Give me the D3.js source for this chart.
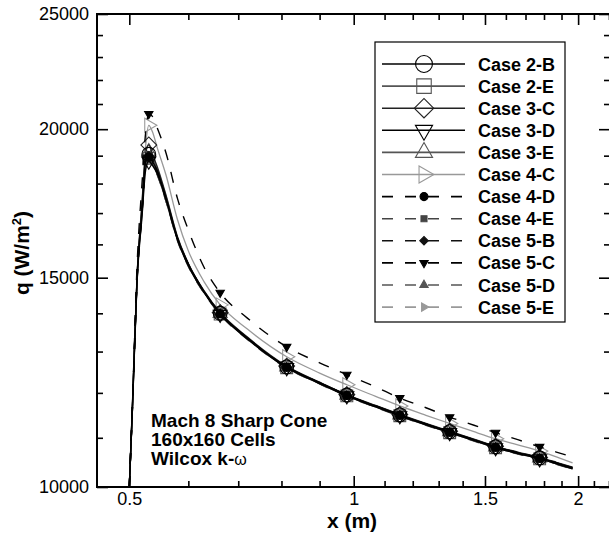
<!DOCTYPE html>
<html>
<head>
<meta charset="utf-8">
<script src="https://cdn.jsdelivr.net/npm/d3@7"></script>
<style>
  body { margin: 0; background: #fff; }
  svg { font-family: "Liberation Sans", Arial, Helvetica, sans-serif; }
</style>
</head>
<body>
<script>

// shared x stations (m) and the indices that carry a symbol
var xVals = [0.5, 0.505, 0.512, 0.52, 0.526, 0.531, 0.537, 0.545, 0.56, 0.58, 0.60, 0.63, 0.662, 0.72,
             0.813, 0.90, 0.979, 1.07, 1.153, 1.25, 1.345, 1.45, 1.55, 1.66, 1.776, 1.87, 1.966];
var markerIdx = [5, 12, 14, 16, 18, 20, 22, 24];

var caseNames = ["Case 2-B", "Case 2-E", "Case 3-C", "Case 3-D", "Case 3-E", "Case 4-C",
                 "Case 4-D", "Case 4-E", "Case 5-B", "Case 5-C", "Case 5-D", "Case 5-E"];

// heat flux q (W/m^2)
var q2B = [10000, 11750, 14950, 17100, 18850, 19050, 18800, 18450, 17500, 16200, 15400, 14600, 14000, 13350,
           12620, 12240, 11950, 11700, 11500, 11300, 11130, 10960, 10810, 10690, 10580, 10480, 10380];
var q2E = [10000, 11700, 14900, 17000, 18700, 18900, 18700, 18350, 17400, 16150, 15350, 14570, 13980, 13330,
           12600, 12220, 11930, 11680, 11480, 11280, 11110, 10940, 10790, 10670, 10560, 10460, 10360];
var q3C = [10000, 11800, 15000, 17300, 19100, 19400, 19050, 18600, 17600, 16250, 15420, 14620, 14020, 13370,
           12640, 12250, 11960, 11710, 11510, 11310, 11140, 10970, 10820, 10700, 10590, 10490, 10390];
var q3D = [10000, 11700, 14850, 16900, 18500, 18800, 18650, 18350, 17450, 16150, 15350, 14570, 13970, 13320,
           12600, 12220, 11930, 11680, 11480, 11280, 11110, 10940, 10790, 10670, 10560, 10460, 10360];
var q3E = [10000, 11750, 14950, 17200, 18950, 19150, 18900, 18500, 17550, 16220, 15400, 14600, 14000, 13350,
           12620, 12240, 11950, 11700, 11500, 11300, 11130, 10960, 10810, 10690, 10580, 10480, 10380];
var q4C = [10000, 11750, 15000, 17400, 19400, 20150, 19900, 19300, 18300, 16800, 15800, 14880, 14230, 13580,
           12870, 12470, 12190, 11920, 11700, 11490, 11310, 11130, 10980, 10850, 10720, 10600, 10480];
var q4D = [10000, 11750, 14900, 17050, 18800, 18950, 18750, 18400, 17450, 16180, 15380, 14590, 13990, 13340,
           12610, 12230, 11940, 11690, 11490, 11290, 11120, 10950, 10800, 10680, 10570, 10470, 10370];
var q4E = [10000, 11700, 14850, 17000, 18650, 18850, 18650, 18300, 17400, 16120, 15330, 14550, 13960, 13310,
           12590, 12210, 11920, 11670, 11470, 11270, 11100, 10930, 10780, 10660, 10550, 10450, 10350];
var q5B = [10000, 11750, 14950, 17100, 18800, 19000, 18800, 18450, 17500, 16200, 15400, 14600, 14000, 13350,
           12620, 12240, 11950, 11700, 11500, 11300, 11130, 10960, 10810, 10690, 10580, 10480, 10380];
var q5C = [10000, 11800, 15300, 18000, 19900, 20600, 20500, 20050, 19100, 17500, 16450, 15300, 14570, 13870,
           13120, 12720, 12430, 12140, 11880, 11660, 11450, 11270, 11110, 10960, 10810, 10700, 10600];
var q5D = [10000, 11700, 14900, 17000, 18700, 18900, 18700, 18350, 17400, 16150, 15350, 14570, 13980, 13330,
           12600, 12220, 11930, 11680, 11480, 11280, 11110, 10940, 10790, 10670, 10560, 10460, 10360];
var q5E = [10000, 11700, 14800, 16900, 18600, 18800, 18600, 18300, 17400, 16150, 15350, 14570, 13980, 13330,
           12600, 12220, 11930, 11680, 11480, 11280, 11110, 10940, 10790, 10670, 10560, 10460, 10360];

var xMajor = [0.5, 1, 1.5, 2];
var xMinor = [0.6, 0.7, 0.8, 0.9, 1.1, 1.2, 1.3, 1.4, 1.6, 1.7, 1.8, 1.9, 2.1, 2.2];
var yMajor = [10000, 15000, 20000, 25000];
var yMinor = [11000, 12000, 13000, 14000, 16000, 17000, 18000, 19000, 21000, 22000, 23000, 24000];

var allQ = [q2B, q2E, q3C, q3D, q3E, q4C, q4D, q4E, q5B, q5C, q5D, q5E];

// look of each case
var styles = [
  {color: "#000", dash: null, sym: "circle",   fill: false},
  {color: "#555", dash: null, sym: "square",   fill: false},
  {color: "#222", dash: null, sym: "diamond",  fill: false},
  {color: "#000", dash: null, sym: "triDown",  fill: false},
  {color: "#555", dash: null, sym: "triUp",    fill: false},
  {color: "#999", dash: null, sym: "triRight", fill: false},
  {color: "#000", dash: "11,12", sym: "circle",   fill: true},
  {color: "#444", dash: "11,12", sym: "square",   fill: true},
  {color: "#111", dash: "11,12", sym: "diamond",  fill: true},
  {color: "#000", dash: "11,12", sym: "triDown",  fill: true},
  {color: "#555", dash: "11,12", sym: "triUp",    fill: true},
  {color: "#999", dash: "11,12", sym: "triRight", fill: true}
];

var W = 609, H = 535;
var L = 97, R = 610, T = 14, B = 487;

var svg = d3.select("body").append("svg")
    .attr("width", W).attr("height", H);

var x = d3.scaleLog().domain([0.4525, 2.207]).range([L, R]);
var y = d3.scaleLog().domain([10000, 25000]).range([B, T]);

svg.append("clipPath").attr("id", "plot")
  .append("rect").attr("x", L).attr("y", T).attr("width", R - L).attr("height", B - T);

// ticks (all inward, on all four sides)
function tickAxis(axis, ticks, size, tx, ty, labels) {
  var g = svg.append("g").attr("transform", "translate(" + tx + "," + ty + ")")
    .call(axis.tickValues(ticks).tickSize(size)
      .tickFormat(labels ? function(d) { return d; } : function() { return ""; }));
  g.select(".domain").remove();
  g.selectAll(".tick line").attr("stroke", "#000").attr("stroke-width", 1.6);
  g.selectAll(".tick text").attr("font-size", "18px").attr("fill", "#000");
  return g;
}

tickAxis(d3.axisBottom(x).tickPadding(5), xMajor, -11, 0, B, true);
tickAxis(d3.axisBottom(x), xMinor, -6, 0, B, false);
tickAxis(d3.axisTop(x), xMajor, -11, 0, T, false);
tickAxis(d3.axisTop(x), xMinor, -6, 0, T, false);
tickAxis(d3.axisLeft(y).tickPadding(8), yMajor, -11, L, 0, true);
tickAxis(d3.axisLeft(y), yMinor, -6, L, 0, false);
tickAxis(d3.axisRight(y), yMajor, -11, R, 0, false);
tickAxis(d3.axisRight(y), yMinor, -6, R, 0, false);

svg.append("rect").attr("x", L).attr("y", T).attr("width", R - L).attr("height", B - T)
  .attr("fill", "none").attr("stroke", "#000").attr("stroke-width", 2);

// symbols
function symPath(s, scale) {
  var big = !s.fill;
  var t, size, rot = 0;
  if (s.sym == "circle") { t = d3.symbolCircle; size = big ? 150 : 50; }
  if (s.sym == "square") { t = d3.symbolSquare; size = big ? 140 : 36; }
  if (s.sym == "diamond") { t = d3.symbolSquare; size = big ? 125 : 36; rot = 45; }
  if (s.sym == "triUp") { t = d3.symbolTriangle; size = big ? 85 : 30; }
  if (s.sym == "triDown") { t = d3.symbolTriangle; size = big ? 85 : 30; rot = 180; }
  if (s.sym == "triRight") { t = d3.symbolTriangle; size = big ? 85 : 30; rot = 90; }
  return {d: d3.symbol().type(t).size(size * scale)(), rot: rot};
}

function drawSymbol(g, s, cx, cy, scale) {
  var p = symPath(s, scale || 1);
  g.append("path").attr("d", p.d)
    .attr("transform", "translate(" + cx + "," + cy + ") rotate(" + p.rot + ")")
    .attr("fill", s.fill ? s.color : "none")
    .attr("stroke", s.color).attr("stroke-width", 1.1);
}

var line = d3.line()
  .x(function(d) { return x(d[0]); })
  .y(function(d) { return y(d[1]); })
  .curve(d3.curveMonotoneX);

var plot = svg.append("g").attr("clip-path", "url(#plot)");

// light gray ones first, black ones on top
var order = [5, 11, 1, 4, 7, 10, 2, 8, 0, 3, 6, 9];
order.forEach(function(i) {
  var s = styles[i];
  var pts = xVals.map(function(xv, k) { return [xv, allQ[i][k]]; });
  plot.append("path").datum(pts)
    .attr("d", line)
    .attr("fill", "none")
    .attr("stroke", s.color)
    .attr("stroke-width", s.color == "#999" ? 1.3 : 1.4)
    .attr("stroke-dasharray", s.dash);
  markerIdx.forEach(function(k) {
    drawSymbol(plot, s, x(pts[k][0]), y(pts[k][1]));
  });
});

// legend
var lg = svg.append("g");
lg.append("rect").attr("x", 375).attr("y", 42).attr("width", 190).attr("height", 280)
  .attr("fill", "#fff").attr("stroke", "#000").attr("stroke-width", 1.2);

caseNames.forEach(function(name, i) {
  var s = styles[i];
  var ry = 64 + i * 22.1;
  lg.append("line").attr("x1", 382).attr("x2", 465).attr("y1", ry).attr("y2", ry)
    .attr("stroke", s.color).attr("stroke-width", 1.6)
    .attr("stroke-dasharray", s.dash);
  drawSymbol(lg, s, 424, ry, s.fill ? 1 : 1.5);
  lg.append("text").attr("x", 478).attr("y", ry + 6.5)
    .attr("font-size", "18px").attr("font-weight", "bold").text(name);
});

// annotation
var notes = ["Mach 8 Sharp Cone", "160x160 Cells"];
notes.forEach(function(t, i) {
  svg.append("text").attr("x", 151).attr("y", 427 + i * 19)
    .attr("font-size", "19px").attr("font-weight", "bold").text(t);
});
var wk = svg.append("text").attr("x", 151).attr("y", 465)
  .attr("font-size", "19px").attr("font-weight", "bold");
wk.append("tspan").text("Wilcox k-");
wk.append("tspan").attr("font-weight", "normal").attr("font-size", "16px").text("ω");

// axis titles
svg.append("text").attr("x", 352).attr("y", 528).attr("text-anchor", "middle")
  .attr("font-size", "21px").attr("font-weight", "bold").text("x (m)");

var yt = svg.append("text").attr("transform", "translate(29,253) rotate(-90)")
  .attr("text-anchor", "middle").attr("font-size", "21px").attr("font-weight", "bold");
yt.append("tspan").text("q (W/m");
yt.append("tspan").attr("font-size", "13px").attr("dy", "-8").text("2");
yt.append("tspan").attr("dy", "8").text(")");

</script>
</body>
</html>
